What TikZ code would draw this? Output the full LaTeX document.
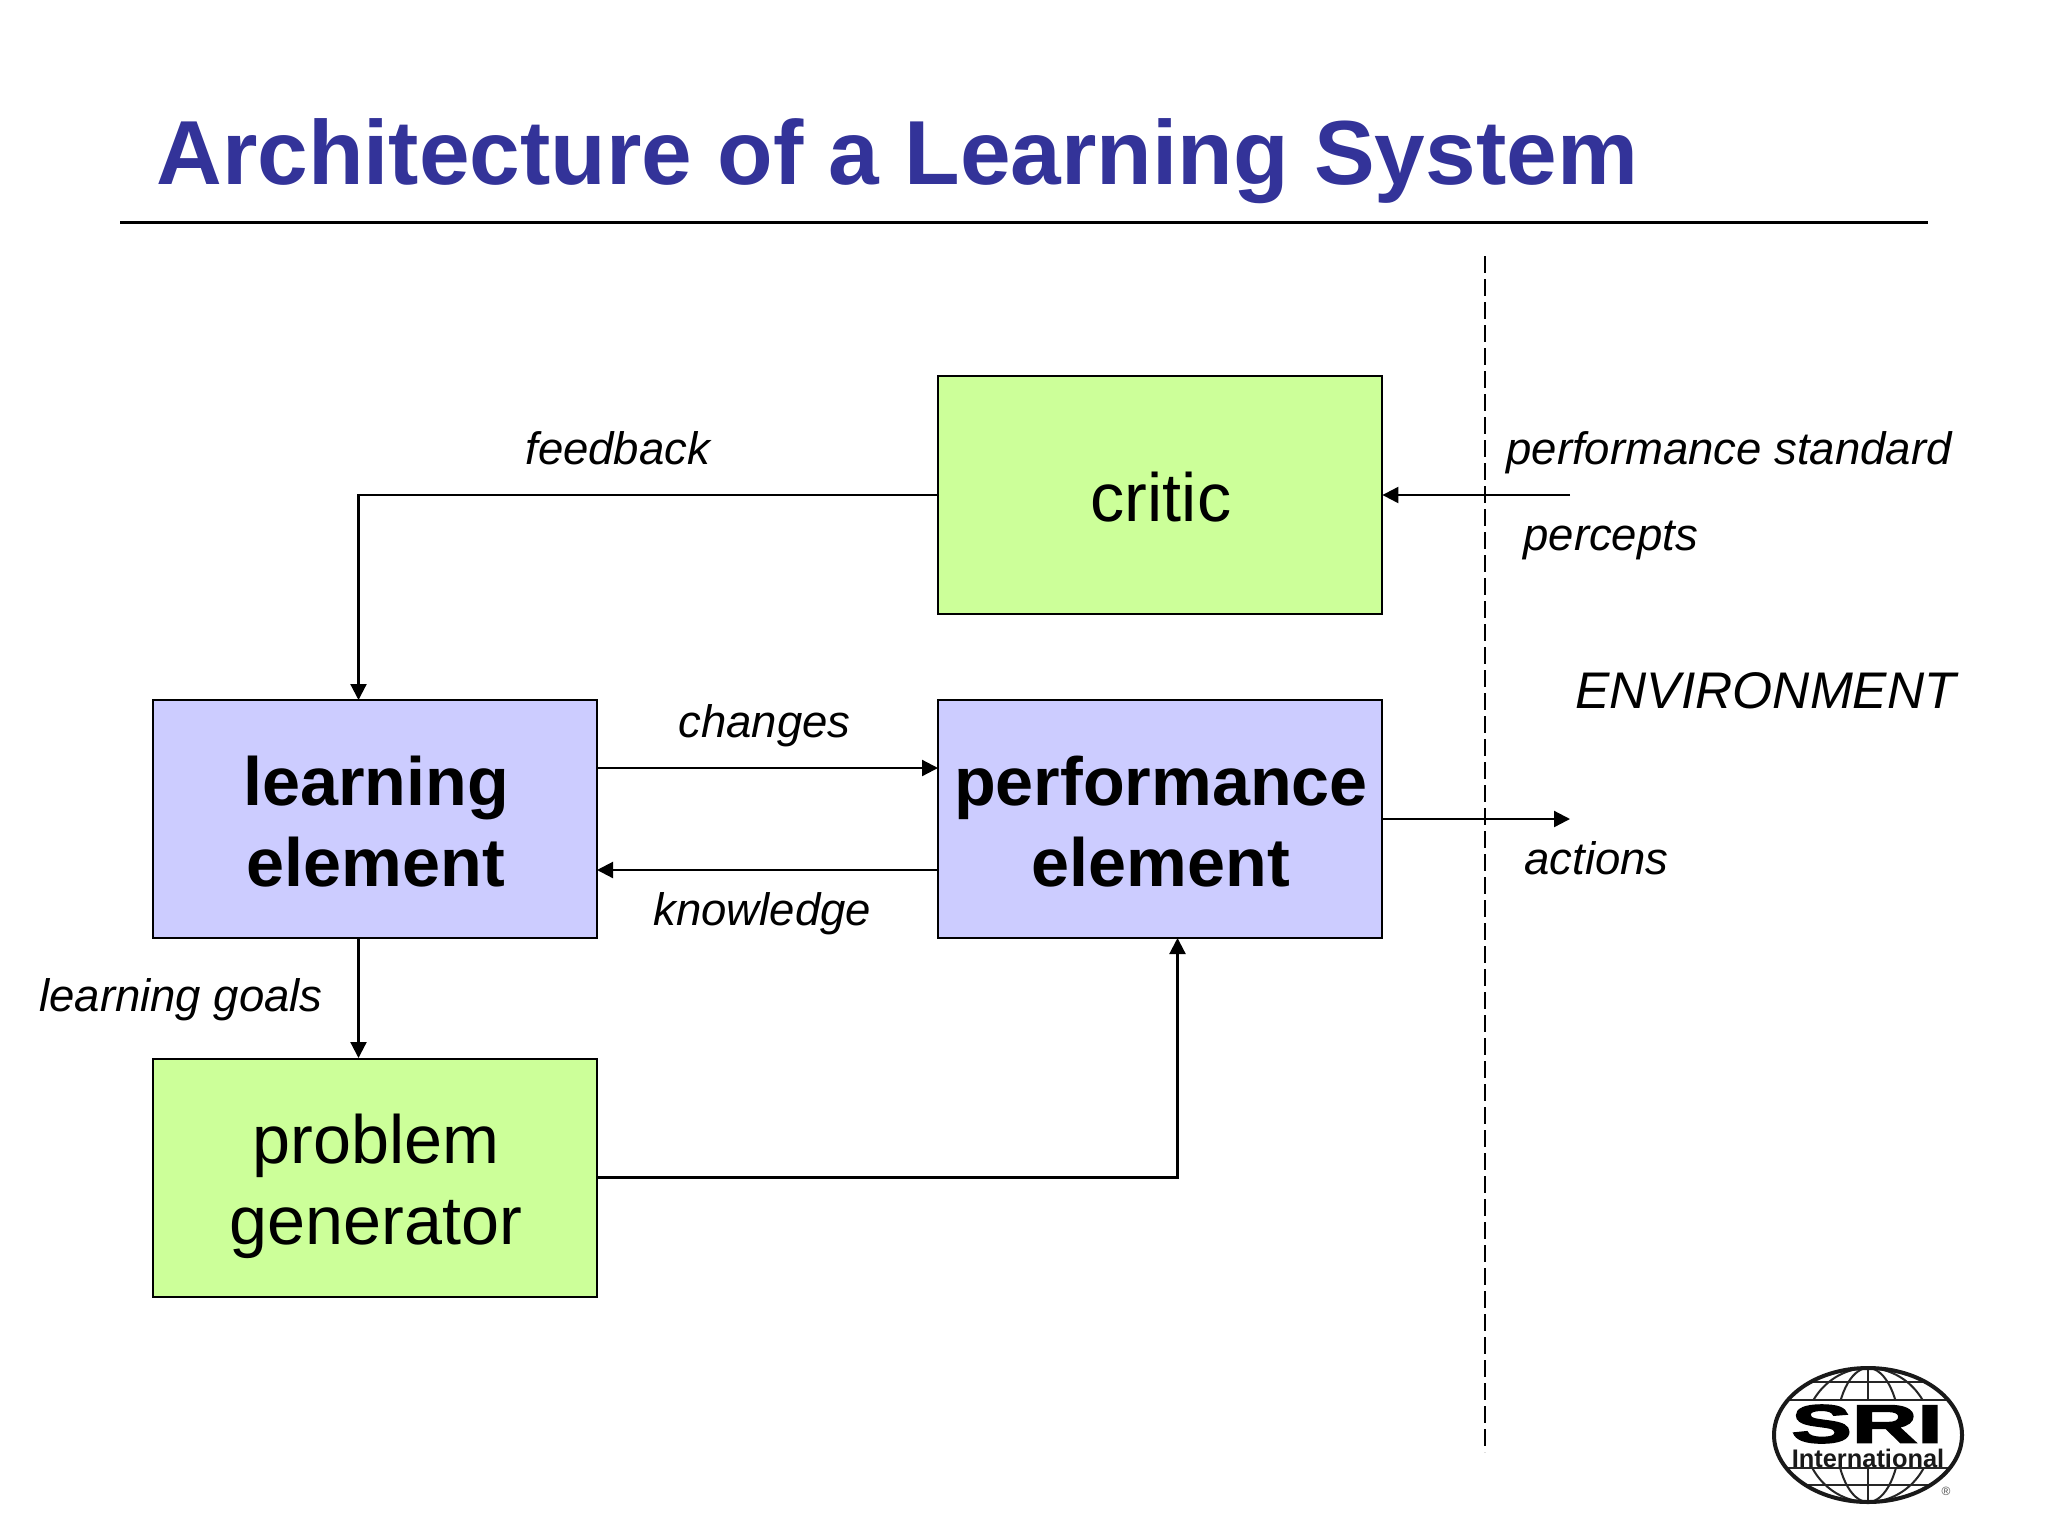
\documentclass[tikz,border=0pt]{standalone}
\usepackage{fontspec}
\setmainfont{Liberation Sans}
\newfontfamily\srifont[FakeBold=2.5]{Liberation Sans Bold}
\usetikzlibrary{arrows.meta}
\definecolor{titleblue}{HTML}{333399}
\definecolor{boxgreen}{HTML}{CCFF99}
\definecolor{boxblue}{HTML}{CCCCFF}
\tikzset{
  box/.style={draw=black,line width=1pt,minimum width=222pt,minimum height=119pt,inner sep=0pt,outer sep=0pt},
  greenbox/.style={box,fill=boxgreen},
  bluebox/.style={box,fill=boxblue},
  boxtext/.style={inner sep=0pt,align=center,text=black,font=\fontsize{34.15}{40.5}\selectfont},
  boldtext/.style={boxtext,font=\fontsize{34.15}{40.5}\selectfont\bfseries},
  conn/.style={draw=black,line width=1.1pt},
  arr/.style={conn,-{Triangle[length=8pt,width=8pt]}},
  lab/.style={anchor=base west,inner sep=0pt,font=\fontsize{22.75}{26}\selectfont\itshape,text=black},
  globe/.style={draw=black!85,line width=1pt},
}
\begin{document}
\begin{tikzpicture}[x=0.5pt,y=-0.5pt]
\useasboundingbox[fill=white] (0,0) rectangle (2048,1536);
% title
\node[anchor=base west,inner sep=0pt,text=titleblue,font=\fontsize{45.5}{50}\selectfont\bfseries] (title) at (156,184) {Architecture of a Learning System};
\coordinate (ruleL) at (120,222);
\coordinate (ruleR) at (1928,222);
\draw[line width=1.5pt] (ruleL) -- (ruleR);
% environment boundary
\coordinate (envT) at (1485,256);
\coordinate (envB) at (1485,1452);
\draw[line width=1pt,dash pattern=on 8.5pt off 3pt] (envT) -- (envB);
% boxes
\node[greenbox] (critic) at (1160.4,495) {};
\node[bluebox] (learning) at (375.4,819) {};
\node[bluebox] (performance) at (1160.4,819) {};
\node[greenbox] (problem) at (375.4,1177.5) {};
\node[boxtext] (tcritic) at (1161,497) {critic};
\node[boldtext] (tlearning) at (376,821.5) {learning\\element};
\node[boldtext] (tperformance) at (1161,821.5) {performance\\element};
\node[boxtext] (tproblem) at (376,1186) {problem\\generator};
% free ends
\coordinate (percIn) at (1570,495);
\coordinate (actOut) at (1570,819);
\coordinate (fbX) at (358.5,700);
\coordinate (lgTop) at (358.5,938);
\coordinate (lgBot) at (358.5,1058);
\coordinate (pgX) at (1177.5,938);
\coordinate (chL) at (597,768);
\coordinate (chR) at (938,768);
\coordinate (knR) at (938,870);
\coordinate (knL) at (597,870);
% connectors
\draw[arr] (percIn) -- (critic.east);
\draw[arr] (critic.west) -| (fbX);
\draw[arr] (chL) -- (chR);
\draw[arr] (knR) -- (knL);
\draw[arr] (lgTop) -- (lgBot);
\draw[arr] (problem.east) -| (pgX);
\draw[arr] (performance.east) -- (actOut);
% labels
\node[lab] (lfeedback) at (525,464.5) {feedback};
\node[lab] (lperf) at (1506,464.5) {performance standard};
\node[lab] (lpercepts) at (1523,550) {percepts};
\node[lab,font=\fontsize{25.75}{30}\selectfont\itshape] (lenv) at (1575,708) {ENVIRONMENT};
\node[lab] (lchanges) at (678,737.5) {changes};
\node[lab] (lknow) at (653,925.5) {knowledge};
\node[lab] (lgoals) at (39,1011) {learning goals};
\node[lab] (lactions) at (1524,874.5) {actions};
% logo
\begin{scope}
  \clip (1868,1435) ellipse [x radius=94,y radius=67];
  \foreach \r in {32,64}{
    \draw[globe] (1868,1435) ellipse [x radius=\r,y radius=67];
  }
  \coordinate (gT) at (1868,1368);
  \coordinate (gB) at (1868,1502);
  \draw[globe] (gT) -- (gB);
  \coordinate (la1) at (1770,1382);
  \coordinate (la2) at (1966,1382);
  \coordinate (la3) at (1770,1485);
  \coordinate (la4) at (1966,1485);
  \draw[globe] (la1) -- (la2);
  \draw[globe] (la3) -- (la4);
  \fill[white] (1770,1400) rectangle (1966,1468);
  \draw[globe] (1770,1400) -- (1966,1400);
  \draw[globe] (1770,1468) -- (1966,1468);
\end{scope}
\draw[black!90,line width=2pt] (1868,1435) ellipse [x radius=94,y radius=67];
\node[inner sep=0pt,xscale=1.68,text=black,font=\fontsize{27}{30}\srifont] (lsri) at (1867,1424) {SRI};
\node[inner sep=0pt,text=black!90,font=\fontsize{12.7}{14}\selectfont\bfseries] (lint) at (1868,1458) {International};
\node[inner sep=0pt,text=black!70,font=\fontsize{6}{6}\selectfont] (lreg) at (1946,1491) {®};
\end{tikzpicture}
\end{document}
